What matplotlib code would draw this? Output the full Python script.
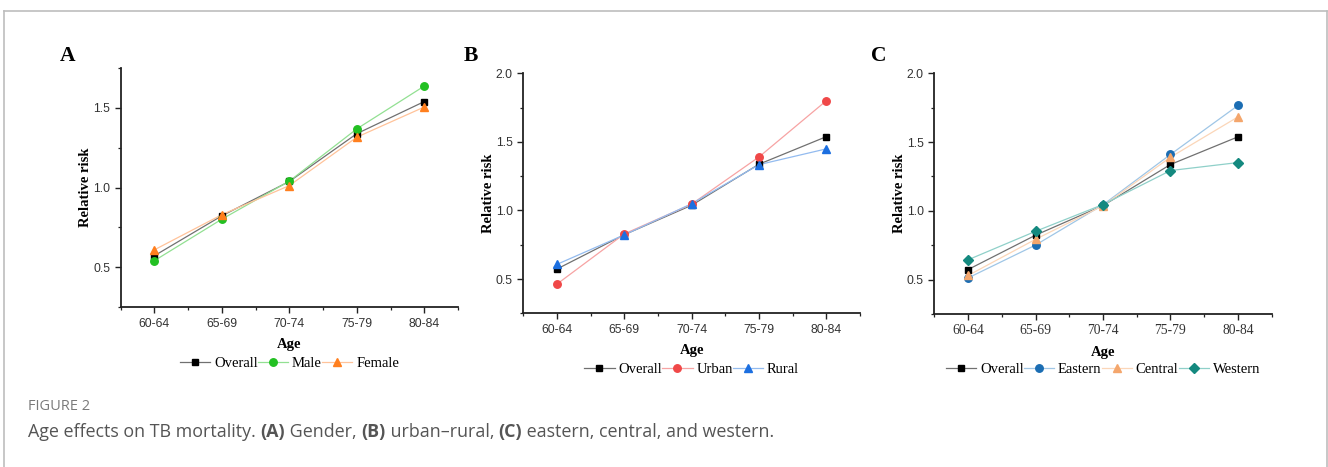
import matplotlib
matplotlib.use("Agg")
import matplotlib.pyplot as plt
from matplotlib.lines import Line2D
from matplotlib.ticker import MultipleLocator

# ---- data ----
ages = ["60-64", "65-69", "70-74", "75-79", "80-84"]

overall = [0.573, 0.823, 1.038, 1.337, 1.538]

male = [0.542, 0.802, 1.040, 1.367, 1.635]
female = [0.610, 0.830, 1.012, 1.315, 1.504]

urban = [0.463, 0.829, 1.046, 1.390, 1.800]
rural = [0.607, 0.822, 1.049, 1.334, 1.449]

eastern = [0.512, 0.751, 1.044, 1.410, 1.766]
central = [0.530, 0.793, 1.037, 1.390, 1.683]
western = [0.644, 0.851, 1.046, 1.293, 1.351]

panel_letters = ["A", "B", "C"]
caption_head = "FIGURE 2"

W, H = 1328, 467
fig = plt.figure(figsize=(W / 100, H / 100), dpi=100)

SERIF = "Liberation Serif"
SANS = "Liberation Sans"

def fx(x):
    return x / W

def fy(y):
    return 1 - y / H

def make_ax(left, right, top, bottom):
    return fig.add_axes([fx(left), fy(bottom), fx(right - left), (bottom - top) / H])

axA = make_ax(120.7, 458.0, 67.7, 307.3)
axB = make_ax(523.3, 860.0, 73.3, 313.3)
axC = make_ax(934.3, 1271.7, 73.3, 314.0)

x = list(range(1, len(ages) + 1))

series = {
    "A": [
        ("Overall", overall, "s", "#000000", "#707070", 4.6),
        ("Male", male, "o", "#22c022", "#92e092", 5.4),
        ("Female", female, "^", "#ff7f1e", "#ffc39a", 6.0),
    ],
    "B": [
        ("Overall", overall, "s", "#000000", "#707070", 4.6),
        ("Urban", urban, "o", "#f04848", "#f7a3a3", 5.4),
        ("Rural", rural, "^", "#1c6fe0", "#93bbef", 6.0),
    ],
    "C": [
        ("Overall", overall, "s", "#000000", "#707070", 4.6),
        ("Eastern", eastern, "o", "#1b6db3", "#9fc6e6", 5.4),
        ("Central", central, "^", "#f4a66c", "#fbd6b8", 6.0),
        ("Western", western, "D", "#14897f", "#8fd0c9", 4.6),
    ],
}

for ax, key, ylim, ylabx in [
    (axA, "A", (0.25, 1.75), 86),
    (axB, "B", (0.25, 2.0), 489),
    (axC, "C", (0.25, 2.0), 900),
]:
    handles = []
    for name, vals, mk, mc, lc, ms in series[key]:
        ax.plot(x, vals, color=lc, lw=0.9, zorder=2)
        ax.plot(x, vals, ls="none", marker=mk, mfc=mc, mec=mc, ms=ms, zorder=3)
        handles.append(Line2D([0], [0], color=lc, lw=0.9, marker=mk, mfc=mc, mec=mc, ms=ms))
    ax.set_xlim(0.5, 5.5)
    ax.set_ylim(*ylim)
    ax.set_xticks(x)
    ax.set_xticklabels(ages)
    ax.set_xticks([0.5, 1.5, 2.5, 3.5, 4.5, 5.5], minor=True)
    ax.yaxis.set_minor_locator(MultipleLocator(0.25))
    ax.set_yticks([0.5, 1.0, 1.5] + ([2.0] if ylim[1] >= 2.0 else []))
    for s in ["top", "right"]:
        ax.spines[s].set_visible(False)
    for s in ["left", "bottom"]:
        ax.spines[s].set_linewidth(1.3)
        ax.spines[s].set_color("#222222")
    ax.tick_params(which="major", direction="out", length=4.5, width=1.0, color="#222222",
                   labelsize=8.8, labelcolor="#333333", pad=3)
    ax.tick_params(which="minor", direction="out", length=2.5, width=0.9, color="#222222")
    for lab in ax.get_yticklabels():
        lab.set_fontfamily(SANS)
    for lab in ax.get_xticklabels():
        lab.set_fontfamily(SERIF if key == "C" else SANS)
        if key == "C":
            lab.set_fontsize(9.8)
    ax.set_xlabel("Age", fontfamily=SERIF, fontweight="bold", fontsize=10.5, labelpad=6)
    ax.set_ylabel("Relative risk", fontfamily=SERIF, fontweight="bold", fontsize=10.5)
    pos = ax.get_position()
    ax.yaxis.set_label_coords(fx(ylabx + 6), pos.y0 + pos.height / 2, transform=fig.transFigure)
    legy = 363.3 if key == "A" else 369.3
    cx = (pos.x0 + pos.x1) / 2
    ax.legend(handles, [h[0] for h in series[key]], loc="center", bbox_to_anchor=(cx, fy(legy)),
              bbox_transform=fig.transFigure, ncol=len(handles), frameon=False,
              prop={"family": SERIF, "size": 10.5}, handlelength=2.1, handletextpad=0.25,
              columnspacing=0.0, borderpad=0.0)

for letter, lx in zip(panel_letters, [68, 470.7, 879]):
    fig.text(fx(lx), fy(55.7), letter, fontfamily=SERIF, fontweight="bold", fontsize=15.5,
             ha="center", va="center")

# frame
frame_c = "#bdbdbd"
fig.add_artist(Line2D([fx(4), fx(1326.5)], [fy(10.5), fy(10.5)], color=frame_c, lw=1.2))
fig.add_artist(Line2D([fx(4), fx(4)], [fy(10.5), 0], color=frame_c, lw=1.2))
fig.add_artist(Line2D([fx(1326.5), fx(1326.5)], [fy(10.5), 0], color=frame_c, lw=1.2))

# caption
fig.text(fx(28), fy(406.5), caption_head, fontfamily="Open Sans", fontsize=10.5, color="#7a7a7a",
         ha="left", va="center")
cap_parts = [
    ("Age effects on TB mortality. ", "normal"),
    ("(A)", "bold"),
    (" Gender, ", "normal"),
    ("(B)", "bold"),
    (" urban\u2013rural, ", "normal"),
    ("(C)", "bold"),
    (" eastern, central, and western.", "normal"),
]
renderer = fig.canvas.get_renderer()
xpos = fx(28)
for txt, wt in cap_parts:
    t = fig.text(xpos, fy(432), txt, fontfamily="Open Sans", fontsize=12.9, color="#555555",
                 fontweight=wt, ha="left", va="center")
    bb = t.get_window_extent(renderer=renderer)
    xpos += bb.width / W

fig.savefig("out.png", dpi=100)
